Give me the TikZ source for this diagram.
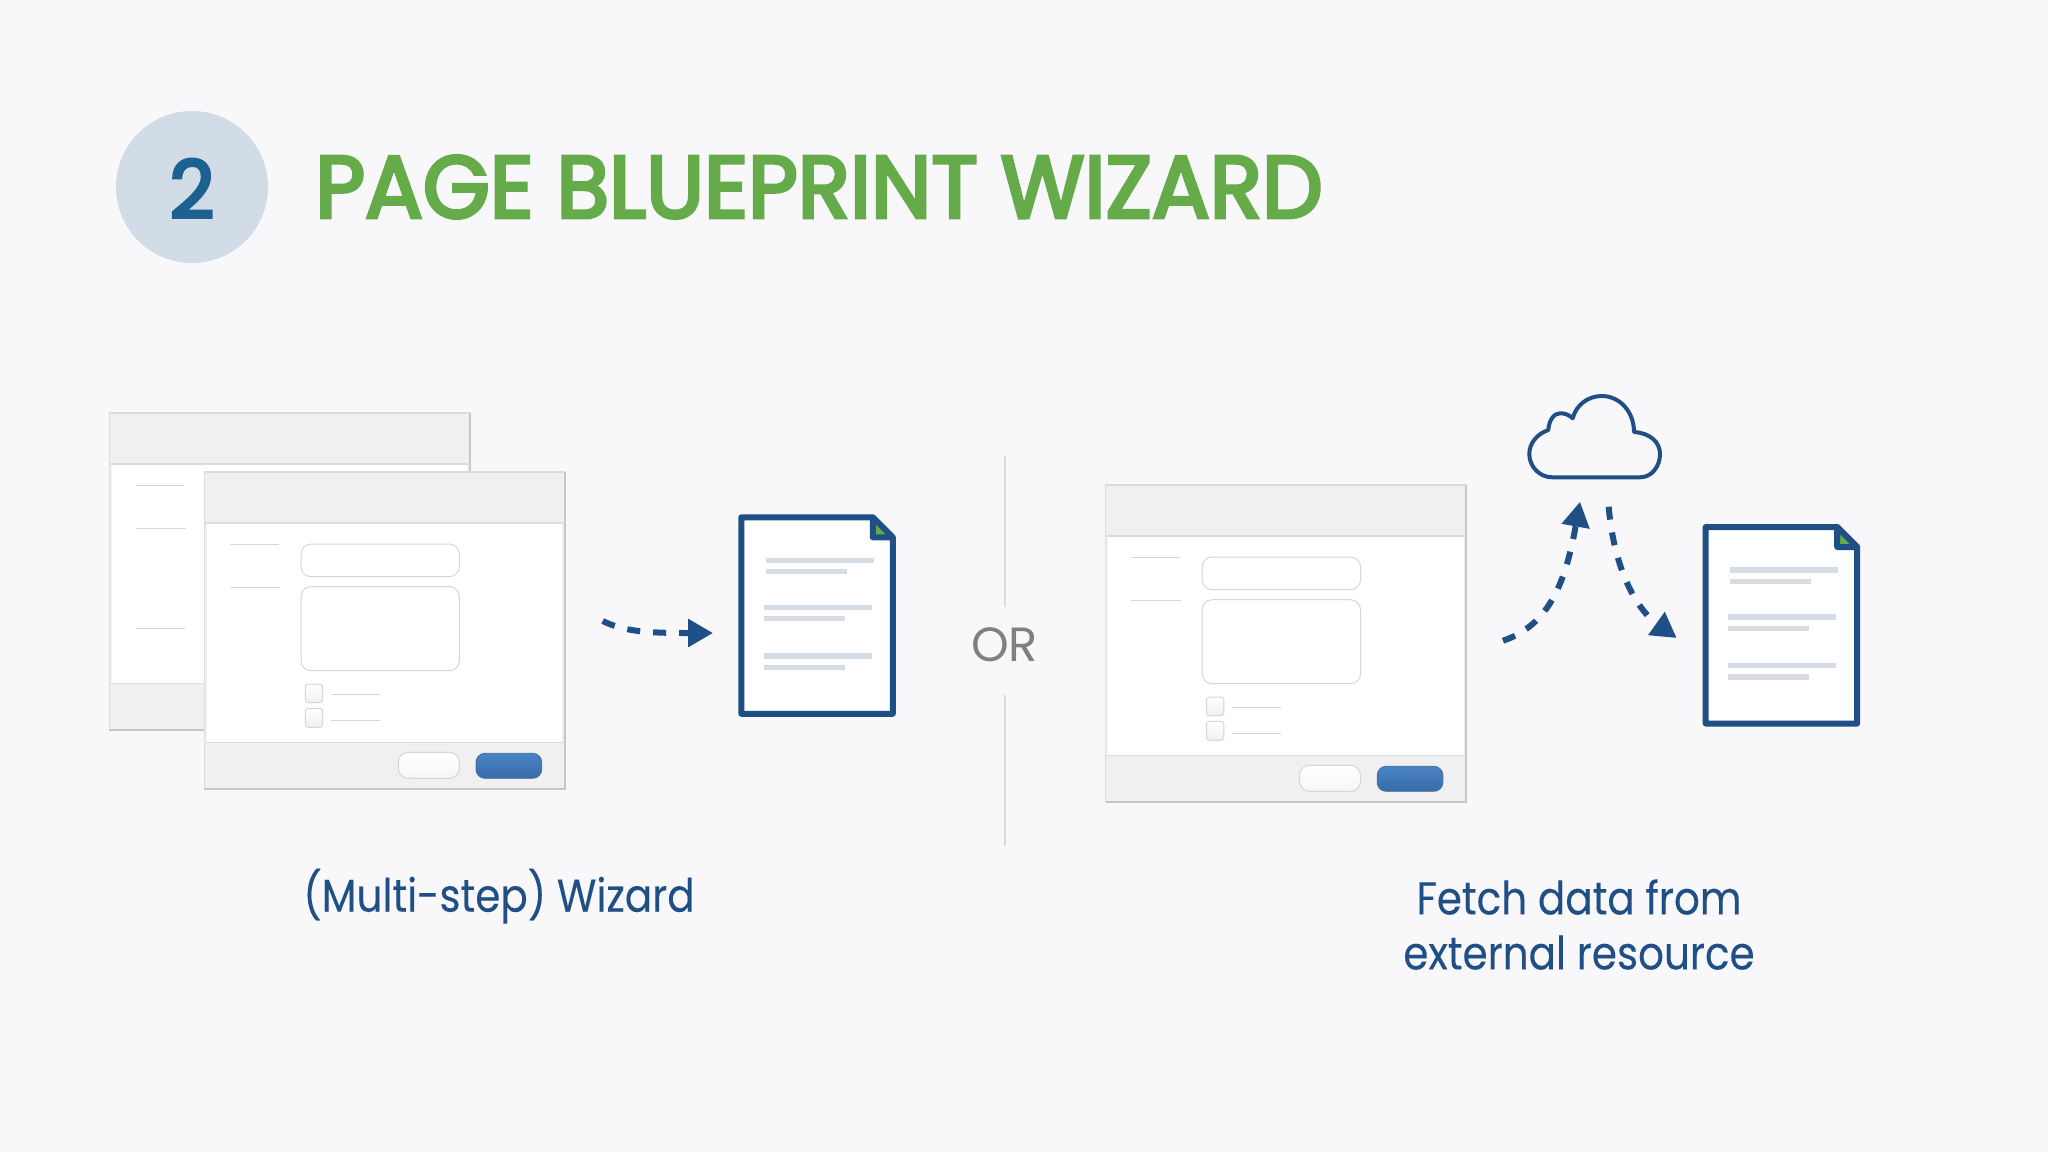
\documentclass[tikz,border=0pt]{standalone}
\usepackage{fontspec}
\setmainfont{Poppins}
\newfontfamily\headfont[FakeBold=4,FakeStretch=0.975]{Poppins}
\newfontfamily\bodyfont[FakeBold=0.15,FakeStretch=0.88]{Poppins}
\usetikzlibrary{arrows.meta}
\definecolor{bgc}{HTML}{F8F8FA}
\definecolor{navy}{HTML}{1F4F84}
\definecolor{leaf}{HTML}{66AB4A}
\definecolor{chrome}{HTML}{F0F0F2}
\definecolor{edgec}{HTML}{DCDCDF}
\definecolor{edgedark}{HTML}{C6C6C9}
\definecolor{hair}{HTML}{D6D6DA}
\definecolor{docone}{HTML}{D5DCE6}
\definecolor{doctwo}{HTML}{D8DCE0}
\definecolor{blue4}{HTML}{4A84C4}
\definecolor{blue5}{HTML}{376BA8}
\tikzset{
  hairline/.style={draw=hair,line width=0.5pt},
  fieldbox/.style={fill=white,draw=hair,line width=0.5pt,rounded corners=5pt},
  tickbox/.style={top color=white,bottom color=chrome,draw=hair,line width=0.5pt,rounded corners=1.5pt},
  shadowline/.style={draw=edgedark,line width=1pt},
  flowarrow/.style={draw=navy,line width=3pt,dash pattern=on 6.5pt off 6.5pt,
    -{Triangle[length=12.5pt,width=13.5pt,fill=navy]}},
  pagetitle/.style={text=leaf,font=\fontsize{44}{44}\selectfont\headfont,anchor=base west,inner sep=0pt},
  bodytext/.style={text=navy,font=\fontsize{23}{27.5}\selectfont\bodyfont,align=center,inner sep=0pt},
}
\newcommand{\wizardwindow}{%
  \fill[chrome] (0,0) rectangle (360.7,317.3);
  \draw[edgec,line width=0.8pt] (0,317.3) -- (0,0) -- (360.7,0);
  \draw[shadowline] (360.7,0) -- (360.7,317.3) -- (0,317.3);
  \fill[white] (2.4,51) rectangle (358,270.6);
  \draw[edgec,line width=0.8pt] (0,51) -- (360.7,51) (0,270.6) -- (360.7,270.6);
  \draw[hairline] (25.7,72.6) -- (74.7,72.6) (25.7,115.3) -- (75.7,115.3);
  \draw[fieldbox] (96.7,72.3) rectangle (255,105);
  \draw[fieldbox] (96.7,115) rectangle (255,199);
  \draw[tickbox] (101,212.3) rectangle (118.4,231);
  \draw[tickbox] (101,236.6) rectangle (118.4,255.6);
  \draw[hairline] (126.4,223) -- (175.7,223) (126.4,248.6) -- (175.7,248.6);
  \draw[top color=white,bottom color=chrome!60!white,draw=hair,line width=0.5pt,rounded corners=5pt] (194,280.6) rectangle (255,306.6);
  \draw[draw=navy!85!white,top color=blue4,bottom color=blue5,line width=0.4pt,rounded corners=4.5pt] (271.7,281.6) rectangle (337.4,306.6);
}
\newcommand{\docicon}{%
  \draw[navy,fill=white,line width=3pt,line join=round] (3,3) -- (134.5,3) -- (154.5,23) -- (154.5,199.5) -- (3,199.5) -- cycle;
  \draw[navy,fill=leaf,line width=3pt,line join=round] (134.5,3) -- (134.5,23) -- (154.5,23) -- cycle;
  \fill[docone] (27.7,43.3) rectangle (135.4,48.6);
  \fill[doctwo] (27.7,54.6) rectangle (108.7,60);
  \fill[docone] (25.7,90.3) rectangle (133.4,95.6);
  \fill[doctwo] (25.7,101.6) rectangle (106.7,107);
  \fill[docone] (25.7,139) rectangle (133.4,144.3);
  \fill[doctwo] (25.7,150.3) rectangle (106.7,155.6);
}
\begin{document}
\begin{tikzpicture}[x=0.5pt,y=-0.5pt]
\fill[bgc] (0,0) rectangle (2048,1152);
\useasboundingbox (0,0) rectangle (2048,1152);
% badge and heading
\node[circle,fill=navy!20!white,minimum size=76pt,inner sep=0pt] (badge) at (192,187) {};
\node[text=navy!90!cyan,font=\fontsize{40}{40}\selectfont\headfont,anchor=base,inner sep=0pt] (badgenum) at (192,218) {2};
\node[pagetitle] (title) at (315,217.7) {PAGE BLUEPRINT WIZARD};
% left windows
\begin{scope}[shift={(109.3,412.7)}]
  \fill[chrome] (0,0) rectangle (360.7,317.3);
  \draw[edgec,line width=0.8pt] (0,317.3) -- (0,0) -- (360.7,0);
  \draw[shadowline] (360.7,0) -- (360.7,317.3) -- (0,317.3);
  \fill[white] (2.4,51) rectangle (358,270.6);
  \draw[edgec,line width=0.8pt] (0,51) -- (360.7,51) (0,270.6) -- (360.7,270.6);
  \draw[hairline] (26.4,73) -- (74.7,73) (26.4,115.3) -- (76.4,115.3) (26.4,216) -- (75.4,216);
\end{scope}
\begin{scope}[shift={(204.3,471.7)}]\wizardwindow\end{scope}
% left doc
\begin{scope}[shift={(738.3,514.3)}]\docicon\end{scope}
\coordinate (a1s) at (602.7,621);
\coordinate (a1e) at (713,633);
\draw[flowarrow] (a1s) .. controls (625,632) and (650,633) .. (a1e);
% divider and OR
\node[text=black!50,font=\fontsize{24}{24}\selectfont,inner sep=0pt] (ortext) at (1004.5,645) {OR};
\coordinate (d1) at (1005,456); \coordinate (d2) at (1005,607);
\coordinate (d3) at (1005,695); \coordinate (d4) at (1005,846);
\draw[edgec,line width=0.8pt] (d1) -- (d2) (d3) -- (d4);
% right window
\begin{scope}[shift={(1105.5,484.7)}]\wizardwindow\end{scope}
% cloud
\draw[navy,line width=2pt,line join=round] (1552,477.3) -- (1640,477.3)
  .. controls (1652,477.3) and (1660,466) .. (1660,454)
  .. controls (1660,442) and (1650,433) .. (1634,432)
  .. controls (1634,412) and (1620,396) .. (1601.7,396)
  .. controls (1588,396) and (1576,405) .. (1572.7,418.3)
  .. controls (1568,414) and (1564,413.3) .. (1560,413.3)
  .. controls (1554,413.3) and (1549,420) .. (1548.3,430)
  .. controls (1537,434) and (1529.3,443) .. (1529.3,454)
  .. controls (1529.3,467) and (1540,477.3) .. (1552,477.3) -- cycle;
\coordinate (a2s) at (1503,640.7);
\coordinate (a2e) at (1580,501.7);
\draw[flowarrow] (a2s) .. controls (1550,625) and (1566,580) .. (a2e);
\coordinate (a3s) at (1608.7,506.7);
\coordinate (a3e) at (1676.7,638);
\draw[flowarrow] (a3s) .. controls (1613,560) and (1632,606) .. (a3e);
% right doc
\begin{scope}[shift={(1702.7,524)}]\docicon\end{scope}
% labels
\node[bodytext,anchor=base] (lab1) at (499,911.7) {(Multi-step) Wizard};
\node[bodytext] (lab2) at (1579,924.5) {Fetch data from\\external resource};
\end{tikzpicture}
\end{document}
